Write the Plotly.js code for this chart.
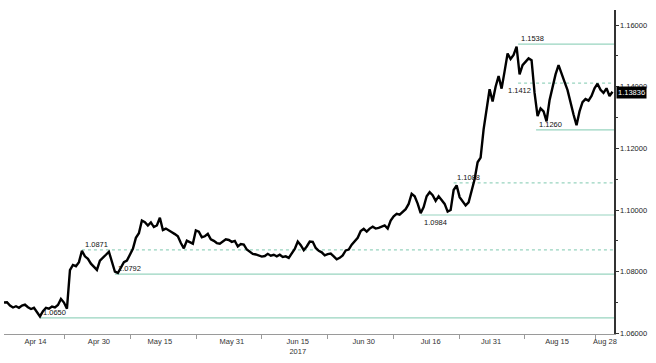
<!DOCTYPE html>
<html>
<head>
<meta charset="utf-8">
<script src="https://cdn.plot.ly/plotly-3.0.1.min.js"></script>
<style>html,body{margin:0;padding:0;background:#fff;}#chart{width:656px;height:363px;}</style>
</head>
<body>
<div id="chart"></div>
<script>
// Half-day closes, weekdays only, starting 2017-04-07 00:00
const seriesStart = '2017-04-07';
const closes = [
1.0700,1.0701,1.0690,1.0684,1.0688,1.0683,1.0690,1.0693,1.0685,1.0679,
1.0683,1.0670,1.0655,1.0672,1.0683,1.0680,1.0687,1.0684,1.0692,1.0712,
1.0700,1.0680,1.0805,1.0822,1.0818,1.0831,1.0868,1.0850,1.0842,1.0826,
1.0815,1.0806,1.0836,1.0847,1.0855,1.0865,1.0831,1.0800,1.0796,1.0815,
1.0831,1.0836,1.0858,1.0874,1.0910,1.0925,1.0966,1.0961,1.0950,1.0960,
1.0945,1.0950,1.0975,1.0935,1.0940,1.0935,1.0928,1.0922,1.0915,1.0893,
1.0876,1.0901,1.0895,1.0891,1.0934,1.0930,1.0912,1.0915,1.0923,1.0905,
1.0900,1.0893,1.0891,1.0897,1.0905,1.0903,1.0897,1.0900,1.0882,1.0890,
1.0888,1.0872,1.0866,1.0858,1.0856,1.0853,1.0849,1.0851,1.0858,1.0852,
1.0855,1.0850,1.0855,1.0848,1.0850,1.0845,1.0858,1.0874,1.0898,1.0886,
1.0870,1.0882,1.0898,1.0897,1.0877,1.0868,1.0863,1.0853,1.0857,1.0859,
1.0850,1.0840,1.0845,1.0853,1.0869,1.0872,1.0888,1.0900,1.0910,1.0932,
1.0939,1.0930,1.0940,1.0946,1.0940,1.0942,1.0946,1.0950,1.0940,1.0966,
1.0980,1.0988,1.0985,1.0993,1.1003,1.1020,1.1053,1.1045,1.1021,1.0990,
1.1010,1.1045,1.1058,1.1048,1.1030,1.1045,1.1031,1.1020,1.0995,1.1000,
1.1065,1.1080,1.1042,1.1030,1.1015,1.1025,1.1060,1.1100,1.1155,1.1170,
1.1262,1.1330,1.1392,1.1352,1.1400,1.1435,1.1394,1.1450,1.1508,1.1490,
1.1503,1.1530,1.1440,1.1470,1.1480,1.1492,1.1486,1.1380,1.1305,1.1330,
1.1320,1.1288,1.1356,1.1400,1.1440,1.1470,1.1440,1.1416,1.1389,1.1345,
1.1310,1.1275,1.1320,1.1350,1.1360,1.1355,1.1370,1.1395,1.1410,1.1390,
1.1380,1.1395,1.1370,1.13836
];
const lastPrice = 1.13836;

const levelValues = [1.0650, 1.0871, 1.0792, 1.0984, 1.1088, 1.1538, 1.1412, 1.1260];
const levelLabels = ['1.0650','1.0871','1.0792','1.0984','1.1088','1.1538','1.1412','1.1260'];
const levelStarts = ['2017-04-17 00:00','2017-04-26 00:00','2017-05-03 12:00','2017-07-13 12:00',
                     '2017-07-21 00:00','2017-08-04 18:00','2017-08-04 18:00','2017-08-09 18:00'];
const levelDashed = [false, true, false, false, true, false, true, false];
const levelLabelBelow = [false, false, false, true, false, false, true, false];

const rangeStart = '2017-04-07 00:00';
const rangeEnd = '2017-08-28 18:00';

// weekend dates (Apr 30, Jul 16) are placed at the nearest trading time; the last label is kept inside the axis
const tickDates = ['2017-04-14 06:00','2017-04-28 20:00','2017-05-15 00:00','2017-05-31 00:00','2017-06-15 00:00',
                   '2017-06-30 00:00','2017-07-17 04:00','2017-07-31 06:00','2017-08-15 06:00','2017-08-25 06:00'];
const tickLabels = ['Apr 14','Apr 30','May 15','May 31','Jun 15<br>2017',
                    'Jun 30','Jul 16','Jul 31','Aug 15','Aug 28'];
const minorTickDates = ['2017-04-21 04:00','2017-05-08 04:00','2017-05-23 04:00','2017-06-07 00:00',
                        '2017-06-22 00:00','2017-07-07 00:00','2017-07-24 00:00','2017-08-07 20:00','2017-08-23 16:00'];

// build half-day timestamps over weekdays
function pad(n){return (n<10?'0':'')+n;}
const times = [];
(function(){
  const d = new Date(seriesStart + 'T00:00:00Z');
  while (times.length < closes.length) {
    const wd = d.getUTCDay();
    if (wd !== 0 && wd !== 6) {
      const s = d.getUTCFullYear()+'-'+pad(d.getUTCMonth()+1)+'-'+pad(d.getUTCDate());
      times.push(s+' 00:00');
      if (times.length < closes.length) times.push(s+' 12:00');
    }
    d.setUTCDate(d.getUTCDate()+1);
  }
})();

const FONT = 'Liberation Sans, Arial, sans-serif';
const traces = [];
levelValues.forEach((v,i)=>{
  traces.push({
    x:[levelStarts[i], rangeEnd], y:[v,v], mode:'lines', hoverinfo:'skip',
    line:{color:'#98d4bf', width:1.2, dash: levelDashed[i] ? '3px,3px' : 'solid'},
    showlegend:false
  });
});
traces.push({
  x: times, y: closes, mode:'lines', line:{color:'#000', width:2.4}, showlegend:false
});

const annotations = levelValues.map((v,i)=>({
  x: levelStarts[i], y: v, xref:'x', yref:'y', text: levelLabels[i], showarrow:false,
  xanchor: i===6 ? 'center' : 'left',
  yanchor: levelLabelBelow[i] ? 'top' : 'bottom',
  xshift: 1, yshift: -1,
  font:{family:FONT, size:7.5, color:'#111'}
}));
annotations.push({
  x:1, xref:'paper', y:lastPrice, yref:'y', text: lastPrice.toFixed(5), showarrow:false,
  xanchor:'left', yanchor:'middle', xshift:2, yshift:-1, bgcolor:'#000', borderpad:1,
  font:{family:FONT, size:7.5, color:'#fff'}
});

const layout = {
  width:656, height:363,
  margin:{l:4, r:42, t:10, b:29},
  paper_bgcolor:'#fff', plot_bgcolor:'#fff',
  showlegend:false,
  font:{family:FONT, size:7.5, color:'#222'},
  xaxis:{
    type:'date', range:[rangeStart, rangeEnd],
    rangebreaks:[{bounds:['sat','mon']}],
    tickmode:'array', tickvals: tickDates, ticktext: tickLabels,
    ticks:'', showgrid:false, zeroline:false,
    showline:true, linecolor:'#9a9a9a', linewidth:1,
    tickfont:{family:FONT, size:7.5, color:'#333'},
    minor:{tickmode:'array', tickvals: minorTickDates, ticks:'outside', ticklen:4, tickcolor:'#9a9a9a', showgrid:false}
  },
  yaxis:{
    side:'right', range:[1.0598, 1.1649],
    tickmode:'linear', tick0:1.06, dtick:0.02, tickformat:'.5f',
    ticks:'outside', ticklen:3, tickcolor:'#333',
    minor:{dtick:0.01, tick0:1.06, ticks:'outside', ticklen:2, tickcolor:'#333', showgrid:false},
    showgrid:false, zeroline:false, showline:true, linecolor:'#333', linewidth:1.5,
    tickfont:{family:FONT, size:7.5, color:'#222'}
  },
  annotations: annotations
};

Plotly.newPlot('chart', traces, layout, {displayModeBar:false, staticPlot:true});
</script>
</body>
</html>
